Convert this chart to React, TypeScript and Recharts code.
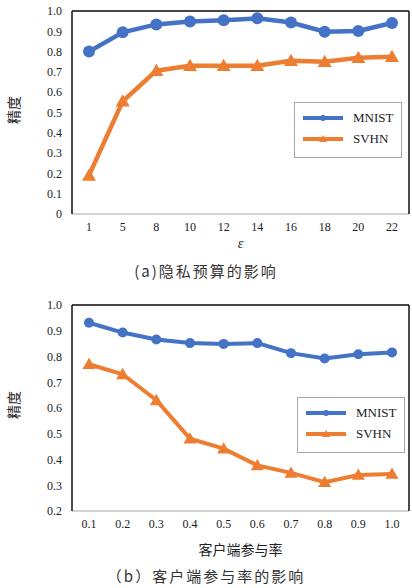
import { LineChart, Line, XAxis, YAxis, CartesianGrid, ReferenceLine } from 'recharts';

// (a) privacy budget
const epsCategories = ['1', '5', '8', '10', '12', '14', '16', '18', '20', '22'];
const epsMnist = [0.8, 0.895, 0.934, 0.948, 0.955, 0.964, 0.943, 0.898, 0.902, 0.941];
const epsSvhn = [0.19, 0.555, 0.706, 0.73, 0.73, 0.73, 0.755, 0.75, 0.77, 0.775];
const epsTicks = [0, 0.1, 0.2, 0.3, 0.4, 0.5, 0.6, 0.7, 0.8, 0.9, 1.0];

// (b) client participation rate
const rateCategories = ['0.1', '0.2', '0.3', '0.4', '0.5', '0.6', '0.7', '0.8', '0.9', '1.0'];
const rateMnist = [0.931, 0.893, 0.866, 0.852, 0.849, 0.852, 0.813, 0.792, 0.809, 0.816];
const rateSvhn = [0.77, 0.731, 0.63, 0.481, 0.442, 0.377, 0.348, 0.312, 0.34, 0.344];
const rateTicks = [0.2, 0.3, 0.4, 0.5, 0.6, 0.7, 0.8, 0.9, 1.0];

const seriesNames = ['MNIST', 'SVHN'];
const seriesColors = ['#4472C4', '#ED7D31'];

const epsData = epsCategories.map((x, i) => ({ x, mnist: epsMnist[i], svhn: epsSvhn[i] }));
const rateData = rateCategories.map((x, i) => ({ x, mnist: rateMnist[i], svhn: rateSvhn[i] }));

const serif = '"Liberation Serif", "DejaVu Serif", serif';
const cjk = '"Noto Sans CJK SC", sans-serif';

const fmt = (v: number) => (v === 0 ? '0' : v.toFixed(1));

const triangle = (size: number, color: string) => (props: any) => {
  const { cx, cy, index } = props;
  if (cx == null || cy == null) return <g key={index} />;
  const h = size;
  return (
    <polygon
      key={index}
      points={`${cx},${cy - h} ${cx - h},${cy + h * 0.75} ${cx + h},${cy + h * 0.75}`}
      fill={color}
    />
  );
};

function LegendBox({ left, top }: { left: number; top: number }) {
  return (
    <div
      style={{
        position: 'absolute',
        left,
        top,
        width: 108,
        height: 56,
        border: '1.5px solid #a8a8a8',
        background: '#fff',
        boxSizing: 'border-box',
        fontFamily: serif,
        fontSize: 13,
        color: '#222',
      }}
    >
      {seriesNames.map((name, i) => (
        <div key={name} style={{ position: 'absolute', left: 8, top: 7 + i * 21, height: 16, display: 'flex', alignItems: 'center' }}>
          <svg width={40} height={10} style={{ marginRight: 10 }}>
            <line x1={0} y1={5} x2={40} y2={5} stroke={seriesColors[i]} strokeWidth={4} strokeLinecap="round" />
            {i === 0 ? (
              <circle cx={20} cy={5} r={3} fill={seriesColors[i]} />
            ) : (
              <polygon points="20,1 16,8 24,8" fill={seriesColors[i]} />
            )}
          </svg>
          <span>{name}</span>
        </div>
      ))}
    </div>
  );
}

function YTitle({ top }: { top: number }) {
  return (
    <div
      style={{
        position: 'absolute',
        left: 13,
        top,
        transform: 'translate(-50%, -50%) rotate(-90deg)',
        fontFamily: cjk,
        fontSize: 14,
        color: '#222',
        whiteSpace: 'nowrap',
      }}
    >
      精度
    </div>
  );
}

function Caption({ top, text }: { top: number; text: string }) {
  return (
    <div
      style={{
        position: 'absolute',
        left: 0,
        width: 412,
        top,
        textAlign: 'center',
        fontFamily: cjk,
        fontSize: 15,
        letterSpacing: 2,
        color: '#333',
      }}
    >
      {text}
    </div>
  );
}

const xPad = { left: 17, right: 17 };

export default function App() {
  return (
    <div style={{ position: 'absolute', left: 0, top: 0, width: 412, height: 588, background: '#fff' }}>
      <div style={{ position: 'absolute', left: 0, top: 0 }}>
        <LineChart width={412} height={252} data={epsData} margin={{ top: 11, right: 2, left: 12, bottom: 2 }}>
          <CartesianGrid horizontal vertical={false} stroke="#d9d9d9" strokeWidth={1.5} />
          <XAxis
            dataKey="x"
            height={36}
            padding={xPad}
            tickLine={false}
            axisLine={{ stroke: '#cfcfcf', strokeWidth: 1.5 }}
            tick={{ fontFamily: serif, fontSize: 12, fill: '#222' }}
            label={{ value: 'ε', position: 'insideBottom', offset: 2, style: { fontFamily: serif, fontStyle: 'italic', fontSize: 14, fill: '#222' } }}
          />
          <YAxis
            yAxisId="l"
            width={60}
            domain={[0, 1]}
            ticks={epsTicks}
            tickFormatter={fmt}
            tickLine={false}
            tickMargin={4}
            axisLine={{ stroke: '#111', strokeWidth: 1.5 }}
            tick={{ fontFamily: serif, fontSize: 12, fill: '#222' }}
          />
          <YAxis yAxisId="r" orientation="right" width={1} domain={[0, 1]} tick={false} tickLine={false} axisLine={{ stroke: '#111', strokeWidth: 1.5 }} />
          <ReferenceLine yAxisId="l" y={1} stroke="#111" strokeWidth={1.5} />
          <Line
            yAxisId="l"
            dataKey="mnist"
            name={seriesNames[0]}
            stroke={seriesColors[0]}
            strokeWidth={4.5}
            dot={{ r: 6, fill: seriesColors[0], stroke: 'none' }}
            isAnimationActive={false}
          />
          <Line
            yAxisId="l"
            dataKey="svhn"
            name={seriesNames[1]}
            stroke={seriesColors[1]}
            strokeWidth={4.5}
            dot={triangle(7, seriesColors[1])}
            isAnimationActive={false}
          />
        </LineChart>
      </div>
      <YTitle top={110} />
      <LegendBox left={294} top={102} />
      <Caption top={260} text="(a)隐私预算的影响" />

      <div style={{ position: 'absolute', left: 0, top: 290 }}>
        <LineChart width={412} height={271} data={rateData} margin={{ top: 15, right: 2, left: 12, bottom: 0 }}>
          <CartesianGrid horizontal vertical={false} stroke="#d9d9d9" strokeWidth={1.5} />
          <XAxis
            dataKey="x"
            height={50}
            padding={xPad}
            tickLine={false}
            axisLine={{ stroke: '#cfcfcf', strokeWidth: 1.5 }}
            tick={{ fontFamily: serif, fontSize: 12, fill: '#222' }}
            label={{ value: '客户端参与率', position: 'insideBottom', offset: 6, style: { fontFamily: cjk, fontSize: 14, fill: '#222' } }}
          />
          <YAxis
            yAxisId="l"
            width={60}
            domain={[0.2, 1]}
            ticks={rateTicks}
            tickFormatter={fmt}
            tickLine={false}
            tickMargin={4}
            axisLine={{ stroke: '#111', strokeWidth: 1.5 }}
            tick={{ fontFamily: serif, fontSize: 12, fill: '#222' }}
          />
          <YAxis yAxisId="r" orientation="right" width={1} domain={[0.2, 1]} tick={false} tickLine={false} axisLine={{ stroke: '#111', strokeWidth: 1.5 }} />
          <ReferenceLine yAxisId="l" y={1} stroke="#111" strokeWidth={1.5} />
          <Line
            yAxisId="l"
            dataKey="mnist"
            name={seriesNames[0]}
            stroke={seriesColors[0]}
            strokeWidth={4}
            dot={{ r: 5, fill: seriesColors[0], stroke: 'none' }}
            isAnimationActive={false}
          />
          <Line
            yAxisId="l"
            dataKey="svhn"
            name={seriesNames[1]}
            stroke={seriesColors[1]}
            strokeWidth={4}
            dot={triangle(6.5, seriesColors[1])}
            isAnimationActive={false}
          />
        </LineChart>
      </div>
      <YTitle top={405} />
      <LegendBox left={297} top={397} />
      <Caption top={565} text="（b）客户端参与率的影响" />
    </div>
  );
}
